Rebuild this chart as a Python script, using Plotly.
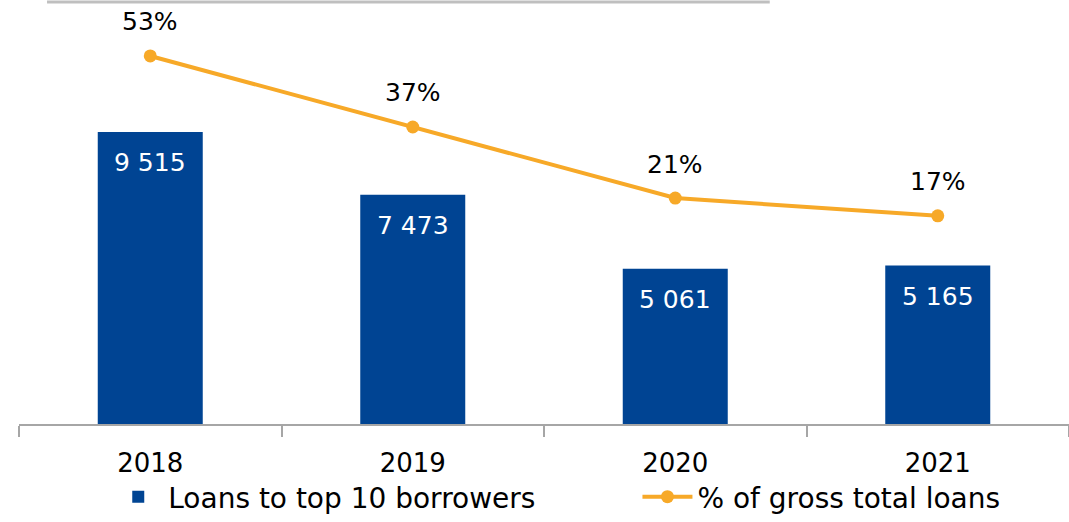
import plotly.graph_objects as go

years = ["2018", "2019", "2020", "2021"]
loans = [9515, 7473, 5061, 5165]
share = [53, 37, 21, 17]
bar_labels = ["9 515", "7 473", "5 061", "5 165"]
share_labels = ["53%", "37%", "21%", "17%"]

BLUE = "#004493"
ORANGE = "#F7A928"
FONT = "DejaVu Sans"

fig = go.Figure()
fig.add_trace(go.Bar(
    x=years, y=loans, name="Loans to top 10 borrowers",
    marker=dict(color=BLUE, line=dict(width=0)), width=0.4, legend="legend",
))
fig.add_trace(go.Scatter(
    x=years, y=share, name="% of gross total loans", yaxis="y2",
    mode="lines+markers", line=dict(color=ORANGE, width=4),
    marker=dict(color=ORANGE, size=13), legend="legend2",
))

annotations = []
for i, (v, t) in enumerate(zip(loans, bar_labels)):
    annotations.append(dict(x=i, xref="x", y=v, yref="y", text=t, showarrow=False,
                            yanchor="middle", yshift=-31,
                            font=dict(color="white", size=25, family=FONT)))
for i, (v, t) in enumerate(zip(share, share_labels)):
    annotations.append(dict(x=i, xref="x", y=v, yref="y2", text=t, showarrow=False,
                            yanchor="middle", yshift=34,
                            font=dict(color="#000000", size=25, family=FONT)))

leg_common = dict(orientation="h", yanchor="bottom", y=-0.2426,
                  font=dict(size=28), itemwidth=50, bgcolor="rgba(0,0,0,0)")

fig.update_layout(
    width=1069, height=522,
    margin=dict(l=19, r=0, t=20, b=98),
    paper_bgcolor="white", plot_bgcolor="white",
    font=dict(family=FONT, size=26, color="#000000"),
    xaxis=dict(type="category", range=[-0.5, 3.5], showline=True, linecolor="#A6A6A6",
               linewidth=1.5, ticks="outside", tickson="boundaries", ticklen=11,
               tickcolor="#A6A6A6", tickwidth=1.5, showgrid=False,
               tickfont=dict(size=26), zeroline=False, tickangle=0,
               ticklabelstandoff=15),
    yaxis=dict(range=[0, 13164], visible=False, showgrid=False),
    yaxis2=dict(range=[-29.9, 61.1], overlaying="y", visible=False, showgrid=False),
    showlegend=True,
    legend=dict(x=0.085, xanchor="left", **leg_common),
    legend2=dict(x=0.589, xanchor="left", **leg_common),
    annotations=annotations,
    shapes=[dict(type="line", xref="paper", yref="paper",
                 x0=0.0267, x1=0.715, y0=1.0446, y1=1.0446,
                 line=dict(color="#BFBFBF", width=3))],
)

fig.write_html("out.html")
